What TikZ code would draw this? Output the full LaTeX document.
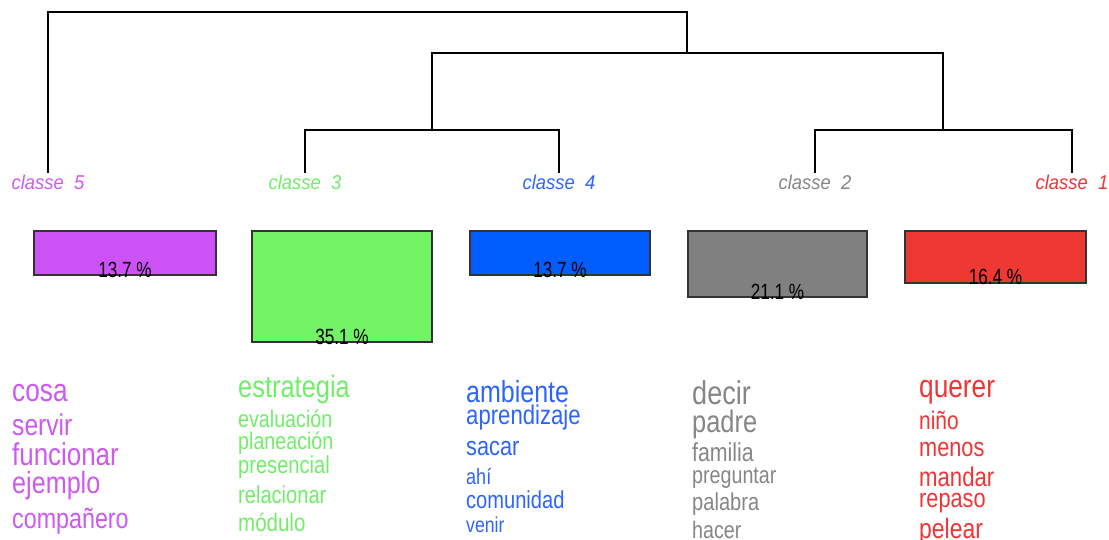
\documentclass[tikz,border=0pt]{standalone}
\usepackage{fontspec}
\newfontfamily\wordfont{Liberation Sans}[FakeStretch=0.82]
\newfontfamily\pctfont{Liberation Sans}[FakeStretch=0.78]
\newfontfamily\clsfont{Liberation Sans}[FakeStretch=0.92]
\newcommand{\wsz}[1]{\fontsize{#1pt}{#1pt}\selectfont}
\definecolor{cinqbar}{RGB}{205,82,245}
\definecolor{cinqtxt}{RGB}{206,88,242}
\definecolor{troisbar}{RGB}{114,242,101}
\definecolor{troistxt}{RGB}{112,238,104}
\definecolor{quatrebar}{RGB}{0,94,255}
\definecolor{quatretxt}{RGB}{45,100,255}
\definecolor{deuxbar}{RGB}{128,128,128}
\definecolor{deuxtxt}{RGB}{134,134,134}
\definecolor{unbar}{RGB}{238,56,51}
\definecolor{untxt}{RGB}{240,52,52}
\begin{document}
\begin{tikzpicture}[x=1pt,y=-1pt,
        tree/.style={draw=black, line width=1.3pt},
        bar/.style={draw=black!80, line width=1.4pt, anchor=north west, inner sep=0pt, outer sep=0pt},
        pct/.style={anchor=base, inner sep=0pt, yshift=-2pt, font=\pctfont\wsz{22}},
        cls/.style={anchor=base, inner sep=0pt, font=\clsfont\itshape\wsz{20}},
        word/.style={anchor=base west, inner sep=0pt, font=\wordfont},
      ]
      \useasboundingbox (0,0) rectangle (1109,540);
      % dendrogram
      \coordinate (l5) at (48,173);
      \coordinate (l3) at (305,173);
      \coordinate (l4) at (559,173);
      \coordinate (l2) at (815,173);
      \coordinate (l1) at (1072,173);
      \coordinate (m34) at (432,130);
      \coordinate (m21) at (943,130);
      \coordinate (m3421) at (687,53);
      \coordinate (top) at (687,12);
      \draw[tree] (l3) |- (m34) -| (l4);
      \draw[tree] (l2) |- (m21) -| (l1);
      \draw[tree] (m34) |- (m3421) -| (m21);
      \draw[tree] (l5) |- (top) -- (m3421);
      % class labels
      \node[cls, text=cinqtxt] (c5) at (48,190) {classe\ \ 5};
      \node[cls, text=troistxt] (c3) at (305,190) {classe\ \ 3};
      \node[cls, text=quatretxt] (c4) at (559,190) {classe\ \ 4};
      \node[cls, text=deuxtxt] (c2) at (815,190) {classe\ \ 2};
      \node[cls, text=untxt] (c1) at (1072,190) {classe\ \ 1};
      % bars
      \node[bar, fill=cinqbar, minimum width=182pt, minimum height=44pt] (b5) at (34,231) {};
      \node[bar, fill=troisbar, minimum width=180pt, minimum height=111pt] (b3) at (252,231) {};
      \node[bar, fill=quatrebar, minimum width=180pt, minimum height=44pt] (b4) at (470,231) {};
      \node[bar, fill=deuxbar, minimum width=179pt, minimum height=66pt] (b2) at (688,231) {};
      \node[bar, fill=unbar, minimum width=181pt, minimum height=52pt] (b1) at (905,231) {};
      \node[pct] (p5) at (b5.south) {13.7 \%};
      \node[pct] (p3) at (b3.south) {35.1 \%};
      \node[pct] (p4) at (b4.south) {13.7 \%};
      \node[pct] (p2) at (b2.south) {21.1 \%};
      \node[pct] (p1) at (b1.south) {16.4 \%};
      % words, classe 5
      \node[word, text=cinqtxt] (cosa) at (12,401) {\wsz{32}cosa};
      \node[word, text=cinqtxt] (servir) at (12,435) {\wsz{30}servir};
      \node[word, text=cinqtxt] (funcionar) at (12,465) {\wsz{31.6}funcionar};
      \node[word, text=cinqtxt] (ejemplo) at (12,493) {\wsz{30.7}ejemplo};
      \node[word, text=cinqtxt] (companero) at (12,528) {\wsz{28.4}compañero};
      % words, classe 3
      \node[word, text=troistxt] (estrategia) at (238,397) {\wsz{31}estrategia};
      \node[word, text=troistxt] (evaluacion) at (238,427) {\wsz{24}evaluación};
      \node[word, text=troistxt] (planeacion) at (238,449) {\wsz{24}planeación};
      \node[word, text=troistxt] (presencial) at (238,473) {\wsz{24.5}presencial};
      \node[word, text=troistxt] (relacionar) at (238,503) {\wsz{24.5}relacionar};
      \node[word, text=troistxt] (modulo) at (238,531) {\wsz{25}módulo};
      % words, classe 4
      \node[word, text=quatretxt] (ambiente) at (466,402) {\wsz{30.5}ambiente};
      \node[word, text=quatretxt] (aprendizaje) at (466,424) {\wsz{27}aprendizaje};
      \node[word, text=quatretxt] (sacar) at (466,455) {\wsz{26.5}sacar};
      \node[word, text=quatretxt] (ahi) at (466,484) {\wsz{22}ahí};
      \node[word, text=quatretxt] (comunidad) at (466,508) {\wsz{24.5}comunidad};
      \node[word, text=quatretxt] (venir) at (466,532) {\wsz{21.5}venir};
      % words, classe 2
      \node[word, text=deuxtxt] (decir) at (692,404) {\wsz{33}decir};
      \node[word, text=deuxtxt] (padre) at (692,432) {\wsz{31}padre};
      \node[word, text=deuxtxt] (familia) at (692,461) {\wsz{26}familia};
      \node[word, text=deuxtxt] (preguntar) at (692,483) {\wsz{24}preguntar};
      \node[word, text=deuxtxt] (palabra) at (692,510) {\wsz{24.5}palabra};
      \node[word, text=deuxtxt] (hacer) at (692,538) {\wsz{24}hacer};
      % words, classe 1
      \node[word, text=untxt] (querer) at (919,397) {\wsz{32}querer};
      \node[word, text=untxt] (nino) at (919,429) {\wsz{25.5}niño};
      \node[word, text=untxt] (menos) at (919,456) {\wsz{26.5}menos};
      \node[word, text=untxt] (mandar) at (919,486) {\wsz{27}mandar};
      \node[word, text=untxt] (repaso) at (919,507) {\wsz{26.5}repaso};
      \node[word, text=untxt] (pelear) at (919,538) {\wsz{28}pelear};
    \end{tikzpicture}
\end{document}
